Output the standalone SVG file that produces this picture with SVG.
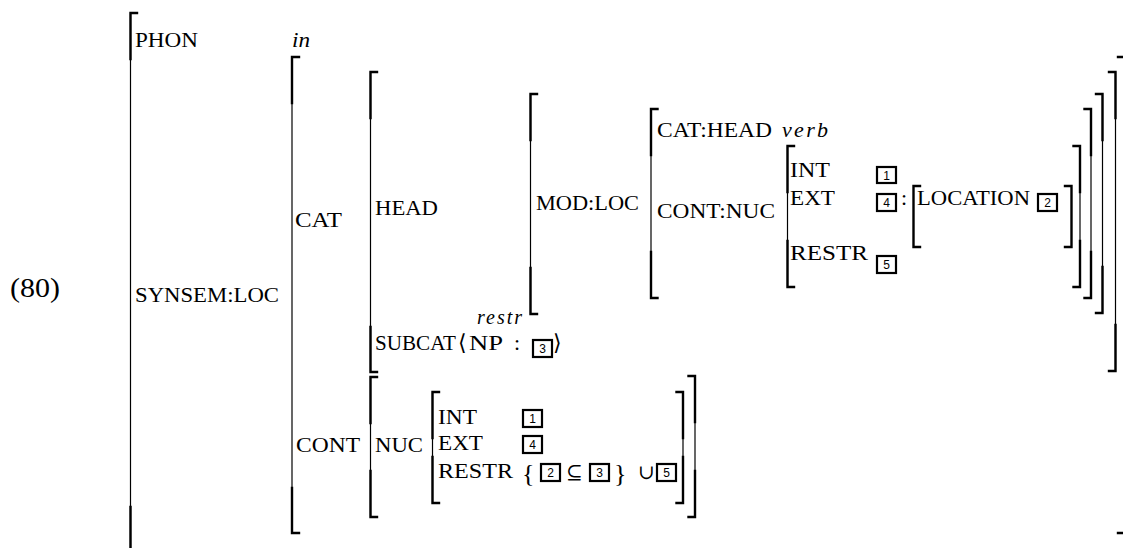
<svg xmlns="http://www.w3.org/2000/svg" width="1123" height="548" viewBox="0 0 1123 548">
  <style>
    text { font-family: "Liberation Serif", "DejaVu Serif", serif; font-size: 22px; fill: #000; }
    .it { font-style: italic; }
    .num { font-family: "Liberation Sans", Arial, sans-serif; font-size: 12px; text-anchor: middle; }
    .thin { fill: none; stroke: #000; stroke-width: 1.2; }
    .thick { fill: none; stroke: #000; stroke-width: 2.4; stroke-linecap: square; }
    .tag { fill: #fff; stroke: #000; stroke-width: 2.2; }
  </style>

  <rect width="1123" height="548" fill="#fff"/>

  <!-- example number -->
  <g id="label">
    <text x="10" y="297" style="font-size:27px" textLength="50" lengthAdjust="spacingAndGlyphs">(80)</text>
  </g>

  <!-- square brackets: thin extension with thick corner pieces -->
  <g id="brackets">
    <!-- outer AVM -->
    <path class="thin" d="M130.5 13 V560"/>
    <path class="thick" d="M137 13 H130.5 V59 M130.5 507 V560"/>
    <!-- SYNSEM:LOC value -->
    <path class="thin" d="M292 57 V533"/>
    <path class="thick" d="M299 57 H292 V103 M292 488 V533 H299"/>
    <path class="thick" d="M1118 57 H1124.5 M1118 533 H1124.5"/>
    <!-- CAT value -->
    <path class="thin" d="M370.5 72 V372"/>
    <path class="thick" d="M377 72 H370.5 V118 M370.5 327 V372 H377"/>
    <path class="thin" d="M1115.5 72 V371"/>
    <path class="thick" d="M1109 72 H1115.5 V118 M1115.5 325 V371 H1109"/>
    <!-- HEAD value -->
    <path class="thin" d="M530.5 94 V314"/>
    <path class="thick" d="M537 94 H530.5 V140 M530.5 268 V314 H537"/>
    <path class="thin" d="M1102.5 94 V313"/>
    <path class="thick" d="M1096 94 H1102.5 V140 M1102.5 267 V313 H1096"/>
    <!-- MOD:LOC value -->
    <path class="thin" d="M651 109 V298"/>
    <path class="thick" d="M657.5 109 H651 V155 M651 252 V298 H657.5"/>
    <path class="thin" d="M1091 109 V298"/>
    <path class="thick" d="M1084.5 109 H1091 V155 M1091 252 V298 H1084.5"/>
    <!-- CONT:NUC value -->
    <path class="thin" d="M787.5 146 V287"/>
    <path class="thick" d="M794 146 H787.5 V192 M787.5 241 V287 H794"/>
    <path class="thin" d="M1080 146 V287"/>
    <path class="thick" d="M1073.5 146 H1080 V192 M1080 241 V287 H1073.5"/>
    <!-- LOCATION value -->
    <path class="thick" d="M920 186 H913.5 V247 H920"/>
    <path class="thick" d="M1065 186 H1071.5 V247 H1065"/>
    <!-- CONT value -->
    <path class="thin" d="M370.5 377 V517"/>
    <path class="thick" d="M377 377 H370.5 V423 M370.5 471 V517 H377"/>
    <path class="thin" d="M695 376 V517"/>
    <path class="thick" d="M688.5 376 H695 V422 M695 471 V517 H688.5"/>
    <!-- NUC value -->
    <path class="thin" d="M432.5 392 V503"/>
    <path class="thick" d="M439 392 H432.5 V438 M432.5 457 V503 H439"/>
    <path class="thin" d="M683 392 V503"/>
    <path class="thick" d="M676.5 392 H683 V438 M683 457 V503 H676.5"/>
  </g>

  <!-- PHON -->
  <g id="phon">
    <text x="135" y="47" textLength="63" lengthAdjust="spacingAndGlyphs">PHON</text>
    <text class="it" x="292" y="47" textLength="18" lengthAdjust="spacingAndGlyphs">in</text>
  </g>

  <!-- SYNSEM:LOC -->
  <g id="synsem">
    <text x="135" y="302" textLength="144" lengthAdjust="spacingAndGlyphs">SYNSEM:LOC</text>
  </g>

  <!-- CAT -->
  <g id="cat">
    <text x="295" y="227" textLength="47" lengthAdjust="spacingAndGlyphs">CAT</text>
  </g>

  <!-- HEAD -->
  <g id="head">
    <text x="375" y="215" textLength="63" lengthAdjust="spacingAndGlyphs">HEAD</text>
    <text x="536" y="210" textLength="103" lengthAdjust="spacingAndGlyphs">MOD:LOC</text>
    <text x="657" y="137" textLength="115" lengthAdjust="spacingAndGlyphs">CAT:HEAD</text>
    <text class="it" x="782" y="137" textLength="46" lengthAdjust="spacing">verb</text>
    <text x="657" y="218" textLength="118" lengthAdjust="spacingAndGlyphs">CONT:NUC</text>
  </g>

  <!-- nucleus inside the modified element -->
  <g id="mod-nuc">
    <text x="790" y="177" textLength="40" lengthAdjust="spacingAndGlyphs">INT</text>
    <rect class="tag" x="877" y="167" width="19" height="16"/>
    <text class="num" x="886.5" y="180">1</text>
    <text x="790" y="205" textLength="45" lengthAdjust="spacingAndGlyphs">EXT</text>
    <rect class="tag" x="877" y="194" width="19" height="17"/>
    <text class="num" x="886.5" y="207">4</text>
    <text x="901" y="205">:</text>
    <text x="917" y="205" textLength="113" lengthAdjust="spacingAndGlyphs">LOCATION</text>
    <rect class="tag" x="1038" y="194" width="19" height="17"/>
    <text class="num" x="1047.5" y="207">2</text>
    <text x="790" y="260" textLength="78" lengthAdjust="spacingAndGlyphs">RESTR</text>
    <rect class="tag" x="877" y="256" width="19" height="17"/>
    <text class="num" x="886.5" y="269">5</text>
  </g>

  <!-- SUBCAT -->
  <g id="subcat">
    <text class="it" x="477" y="324" style="font-size:20px" textLength="45" lengthAdjust="spacing">restr</text>
    <text x="375" y="350" textLength="81" lengthAdjust="spacingAndGlyphs">SUBCAT</text>
    <text x="458" y="350">⟨</text>
    <text x="469" y="350" textLength="34" lengthAdjust="spacingAndGlyphs">NP</text>
    <text x="514" y="350">:</text>
    <rect class="tag" x="533" y="340" width="19" height="17"/>
    <text class="num" x="542.5" y="353">3</text>
    <text x="553" y="350">⟩</text>
  </g>

  <!-- CONT -->
  <g id="cont">
    <text x="296" y="452" textLength="64" lengthAdjust="spacingAndGlyphs">CONT</text>
    <text x="375" y="452" textLength="48" lengthAdjust="spacingAndGlyphs">NUC</text>
  </g>

  <!-- nucleus of the content -->
  <g id="cont-nuc">
    <text x="438" y="424" textLength="39" lengthAdjust="spacingAndGlyphs">INT</text>
    <rect class="tag" x="523" y="410" width="19" height="17"/>
    <text class="num" x="532.5" y="423">1</text>
    <text x="438" y="450" textLength="45" lengthAdjust="spacingAndGlyphs">EXT</text>
    <rect class="tag" x="523" y="436" width="19" height="17"/>
    <text class="num" x="532.5" y="449">4</text>
    <text x="438" y="478" textLength="75" lengthAdjust="spacingAndGlyphs">RESTR</text>
    <text x="522" y="482" style="font-size:26px">{</text>
    <rect class="tag" x="541" y="464" width="19" height="17"/>
    <text class="num" x="550.5" y="477">2</text>
    <text x="566" y="479" style="font-size:20px">⊆</text>
    <rect class="tag" x="590" y="464" width="19" height="17"/>
    <text class="num" x="599.5" y="477">3</text>
    <text x="614" y="482" style="font-size:26px">}</text>
    <text x="638" y="479" style="font-size:20px">∪</text>
    <rect class="tag" x="657" y="464" width="19" height="17"/>
    <text class="num" x="666.5" y="477">5</text>
  </g>
</svg>
